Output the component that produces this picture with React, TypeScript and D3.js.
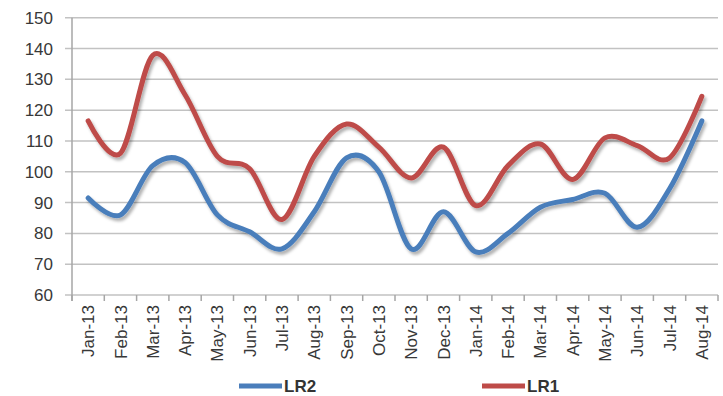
import React from "react";
import * as d3 from "d3";

// Monthly index values, Jan-13 to Aug-14
const months = [
  "Jan-13", "Feb-13", "Mar-13", "Apr-13", "May-13", "Jun-13", "Jul-13", "Aug-13",
  "Sep-13", "Oct-13", "Nov-13", "Dec-13", "Jan-14", "Feb-14", "Mar-14", "Apr-14",
  "May-14", "Jun-14", "Jul-14", "Aug-14",
];
const lr1 = [116.5, 106, 137.8, 125, 105, 101, 84.5, 105, 115.5, 108, 98, 108, 89, 102, 109, 97.5, 111, 108.5, 104.5, 124.5];
const lr2 = [91.5, 86, 102, 103, 86, 80.5, 75, 87, 104.5, 100, 75, 87, 74, 80, 88.5, 91, 93, 82, 94.5, 116.5];
const yTicks = [60, 70, 80, 90, 100, 110, 120, 130, 140, 150];
const seriesNames = ["LR2", "LR1"];

const W = 723;
const H = 396;
const left = 72;
const right = 718;
const top = 17.7;
const bottom = 295;

const BLUE = "#4a7ebb";
const RED = "#be4b48";
const FONT = "'Liberation Sans', Arial, sans-serif";

export default function App() {
  const x = d3.scaleBand<string>().domain(months).range([left, right]).padding(0);
  const y = d3.scaleLinear().domain([60, 150]).range([bottom, top]);
  const cx = (m: string) => (x(m) as number) + x.bandwidth() / 2;

  const line = d3
    .line<number>()
    .x((_, i) => cx(months[i]))
    .y((d) => y(d))
    .curve(d3.curveCatmullRom.alpha(0));

  const boundaries = months.map((m) => x(m) as number).concat([right]);

  const series = [
    { name: seriesNames[0], values: lr2, color: BLUE },
    { name: seriesNames[1], values: lr1, color: RED },
  ];

  return (
    <svg
      width={W}
      height={H}
      style={{ position: "absolute", left: 0, top: 0, background: "#fff" }}
    >
      <defs>
        <filter id="lineShadow" x="-10%" y="-10%" width="120%" height="130%">
          <feDropShadow dx="2" dy="3" stdDeviation="1.6" floodColor="#000" floodOpacity="0.3" />
        </filter>
      </defs>

      {/* horizontal gridlines with left ticks */}
      {yTicks.map((t) => (
        <line
          key={t}
          x1={left - 7}
          x2={right}
          y1={y(t)}
          y2={y(t)}
          stroke="#c2c2c2"
          strokeWidth={1.5}
        />
      ))}

      {/* value axis */}
      <line x1={left} x2={left} y1={top} y2={bottom + 6} stroke="#a6a6a6" strokeWidth={1.5} />

      {/* category ticks */}
      {boundaries.map((b, i) => (
        <line key={i} x1={b} x2={b} y1={bottom} y2={bottom + 6} stroke="#a6a6a6" strokeWidth={1.5} />
      ))}

      {/* y labels */}
      {yTicks.map((t) => (
        <text
          key={t}
          x={53}
          y={y(t)}
          dy="0.36em"
          textAnchor="end"
          fontFamily={FONT}
          fontSize={17}
          fill="#383838"
        >
          {t}
        </text>
      ))}

      {/* x labels, rotated */}
      {months.map((m) => (
        <text
          key={m}
          transform={`translate(${cx(m)},${bottom + 10}) rotate(-90)`}
          dy="0.36em"
          textAnchor="end"
          fontFamily={FONT}
          fontSize={17}
          fill="#383838"
        >
          {m}
        </text>
      ))}

      {/* series lines */}
      {series.map((s) => (
        <path
          key={s.name}
          d={line(s.values) as string}
          fill="none"
          stroke={s.color}
          strokeWidth={5}
          strokeLinecap="round"
          strokeLinejoin="round"
          filter="url(#lineShadow)"
        />
      ))}

      {/* legend */}
      {series.map((s, i) => {
        const lx = i === 0 ? 239 : 482;
        return (
          <g key={s.name}>
            <line x1={lx} x2={lx + 43} y1={386} y2={386} stroke={s.color} strokeWidth={5} />
            <text
              x={lx + 45}
              y={386}
              dy="0.36em"
              fontFamily={FONT}
              fontSize={17}
              fontWeight="bold"
              fill="#333"
            >
              {s.name}
            </text>
          </g>
        );
      })}
    </svg>
  );
}
